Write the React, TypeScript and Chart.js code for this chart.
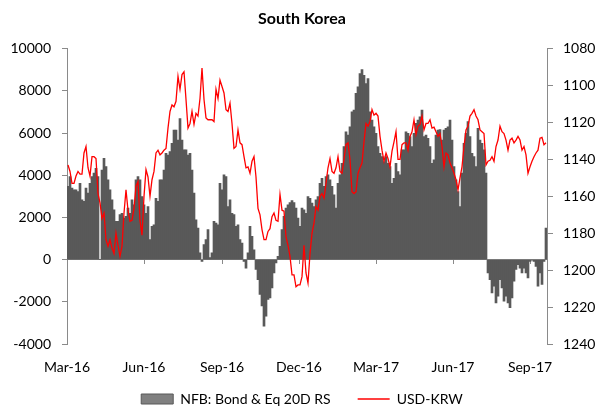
import { useEffect, useRef } from 'react';
import { Chart, registerables } from 'chart.js';

Chart.register(...registerables);

const TITLE = 'South Korea';
const BAR_LABEL = 'NFB: Bond & Eq 20D RS';
const LINE_LABEL = 'USD-KRW';

// Month tick labels and the data index where each falls
const TICK_LABELS = ['Mar-16', 'Jun-16', 'Sep-16', 'Dec-16', 'Mar-17', 'Jun-17', 'Sep-17'];
const TICK_INDEX = [-0.5, 38, 77, 115.5, 154, 192.5, 231];

// Left axis (flows) and right axis (USD-KRW, inverted)
const LEFT_MIN = -4000;
const LEFT_MAX = 10000;
const LEFT_STEP = 2000;
const RIGHT_MIN = 1080;
const RIGHT_MAX = 1240;
const RIGHT_STEP = 20;

// NFB: Bond & Eq 20D rolling sum
const FLOWS = [
  3470, 3940, 3390, 3310, 3310, 3230, 3620, 2830, 2760, 3390,
  3150, 3620, 3940, 4100, 4330, 3940, 0, 4250, 4800, 4410,
  3780, 3310, 2830, 2360, 1810, 1810, 2130, 2200, 1970, 2050,
  2440, 2200, 2830, 2600, 3780, 3940, 3780, 2990, 2600, 2200,
  2520, 950, 1580, 1650, 2910, 2760, 3780, 3780, 4250, 5040,
  4960, 5120, 5510, 6140, 6140, 5670, 6690, 5670, 5200, 5200,
  4960, 5040, 4250, 3150, 1890, 1500, 320, -80, 710, 950,
  1420, 100, 320, 1810, 1730, 1650, 3620, 3310, 4020, 3940,
  2520, 2830, 2200, 2130, 1580, 1650, 950, 790, -80, -400,
  320, 1580, 1100, 470, -470, -950, -1650, -2200, -3150, -2680,
  -1890, -1810, -1340, -630, -160, 160, 630, 1420, 2050, 2440,
  2600, 2710, 2800, 2710, 2440, 1970, 1580, 2440, 2360, 2200,
  2990, 2910, 2680, 2520, 2830, 2990, 3620, 3860, 3470, 3940,
  4020, 3780, 3470, 3070, 2440, 3620, 4020, 4570, 5360, 6060,
  5900, 6300, 7010, 7090, 7880, 8190, 8820, 9010, 8740, 8350,
  8580, 7010, 6620, 6300, 5990, 5360, 5040, 4880, 4650, 4880,
  4570, 4410, 3620, 3860, 4570, 4170, 4020, 5200, 5200, 6060,
  5990, 5830, 5360, 5990, 6460, 6620, 6770, 7090, 5830, 5900,
  5750, 5360, 4570, 4730, 5900, 6140, 6170, 5670, 6140, 6220,
  6300, 6620, 5670, 4410, 3780, 3230, 2520, 4100, 5510, 5990,
  6540, 5830, 5040, 4880, 4410, 6220, 5670, 5510, 5200, 4100,
  -630, -950, -1580, -1260, -2050, -1730, -950, -1340, -1970, -1730,
  -2050, -2280, -1810, -1020, -470, -240, -400, -630, -400, -630,
  -870, -80, -30, -80, -320, -1260, -630, -1180, -80, 1500,
];

// USD-KRW
const USDKRW = [
  1143, 1146.5, 1153, 1153, 1149, 1146.5, 1148, 1148, 1136.5, 1133,
  1144.5, 1149, 1138.5, 1138.5, 1139.5, 1158.5, 1163.5, 1172, 1169, 1183.5,
  1187, 1183.5, 1188, 1191, 1180, 1186.5, 1192.5, 1187, 1169, 1156.5,
  1167.5, 1173.5, 1173, 1166.5, 1154.5, 1152, 1173, 1181, 1160, 1145.5,
  1149.5, 1160, 1151, 1146.5, 1136.5, 1135, 1137.5, 1136.5, 1135, 1134,
  1123, 1114, 1110.5, 1111.5, 1108.5, 1095, 1102, 1094, 1092.5, 1107.5,
  1123, 1120.5, 1114, 1121, 1115, 1116.5, 1107, 1090.5, 1107.5, 1117.5,
  1118.5, 1118.5, 1118.5, 1119.5, 1102, 1107, 1097, 1100.5, 1104, 1113,
  1114, 1109.5, 1120.5, 1134, 1133, 1124, 1131, 1132, 1138.5, 1144.5,
  1144, 1147.5, 1141, 1138.5, 1149.5, 1166.5, 1170, 1178, 1183.5, 1183.5,
  1179, 1177.5, 1171, 1169, 1173, 1173.5, 1159, 1167.5, 1168, 1182,
  1186.5, 1192.5, 1202.5, 1202.5, 1209, 1208, 1208, 1203.5, 1186.5, 1201.5,
  1207, 1191, 1180, 1174.5, 1165.5, 1167.5, 1160, 1158.5, 1161, 1153,
  1144.5, 1139.5, 1146.5, 1147.5, 1144.5, 1138.5, 1146.5, 1147.5, 1140, 1132,
  1131, 1140, 1157.5, 1158.5, 1157.5, 1147.5, 1144.5, 1142, 1130.5, 1120.5,
  1122, 1119.5, 1113, 1116, 1115, 1116.5, 1127.5, 1135, 1141, 1136.5,
  1139.5, 1144, 1135.5, 1130.5, 1125, 1140, 1140, 1132, 1131, 1131,
  1135, 1127.5, 1125, 1118.5, 1126.5, 1122, 1121, 1116.5, 1124, 1120.5,
  1120.5, 1118.5, 1123, 1122.5, 1125, 1127.5, 1126, 1133, 1144, 1136.5,
  1137.5, 1142, 1144.5, 1147.5, 1151, 1156.5, 1150, 1144, 1133, 1124,
  1122, 1116.5, 1115, 1113, 1116.5, 1118.5, 1124, 1125, 1126, 1143,
  1141, 1140.5, 1138.5, 1141, 1133, 1129.5, 1122, 1125, 1126, 1129.5,
  1135, 1129.5, 1128.5, 1131, 1129.5, 1127.5, 1129.5, 1135, 1133, 1137.5,
  1147.5, 1144, 1141, 1138.5, 1136.5, 1135, 1128.5, 1128, 1132, 1131,
];

const FONT = 'Lato, "Open Sans", "DejaVu Sans", sans-serif';
const AXIS_COLOR = '#8a8a8a';
const BAR_COLOR = '#595959';
const LINE_COLOR = '#ff0000';
const LEGEND_PAD = 27;
const LEGEND_HEIGHT = 45;

export default function App() {
  const canvasRef = useRef<HTMLCanvasElement | null>(null);

  useEffect(() => {
    const canvas = canvasRef.current;
    if (!canvas) return;
    const n = FLOWS.length;
    const xMin = -0.5;
    const xMax = n - 0.5;

    const chart = new Chart(canvas, {
      type: 'bar',
      data: {
        datasets: [
          {
            type: 'bar',
            label: BAR_LABEL,
            data: FLOWS.map((v, i) => ({ x: i, y: v })),
            backgroundColor: BAR_COLOR,
            borderWidth: 0,
            barPercentage: 1,
            categoryPercentage: 1,
            xAxisID: 'x',
            yAxisID: 'y',
            order: 1,
          } as any,
          {
            type: 'line',
            label: LINE_LABEL,
            data: USDKRW.map((v, i) => ({ x: i, y: v })),
            borderColor: LINE_COLOR,
            backgroundColor: LINE_COLOR,
            borderWidth: 1.3,
            pointRadius: 0,
            tension: 0,
            fill: false,
            xAxisID: 'x',
            yAxisID: 'y1',
            order: 0,
          } as any,
        ],
      },
      options: {
        responsive: false,
        animation: false,
        events: [],
        layout: { padding: { left: 8, right: 0, top: 0, bottom: 0 } },
        plugins: {
          title: {
            display: true,
            text: TITLE,
            color: '#000',
            font: { family: FONT, size: 16, weight: 'bold' },
            padding: { top: 9, bottom: 20.5 },
          },
          legend: {
            display: true,
            position: 'bottom',
            maxHeight: LEGEND_HEIGHT,
            labels: {
              usePointStyle: true,
              pointStyleWidth: 32,
              boxHeight: 10,
              padding: LEGEND_PAD,
              color: '#000',
              font: { family: FONT, size: 14 },
              generateLabels: () => [
                {
                  text: BAR_LABEL,
                  fillStyle: '#808080',
                  strokeStyle: BAR_COLOR,
                  lineWidth: 1,
                  pointStyle: 'rect',
                  hidden: false,
                  datasetIndex: 0,
                },
                {
                  text: LINE_LABEL,
                  fillStyle: LINE_COLOR,
                  strokeStyle: LINE_COLOR,
                  lineWidth: 1.5,
                  pointStyle: 'line',
                  hidden: false,
                  datasetIndex: 1,
                },
              ],
            },
          },
          tooltip: { enabled: false },
        },
        scales: {
          x: {
            type: 'linear',
            min: xMin,
            max: xMax,
            offset: false,
            position: { y: 0 } as any,
            z: 1,
            afterBuildTicks: (s: any) => {
              s.ticks = TICK_INDEX.map((v) => ({ value: v }));
            },
            ticks: { display: false, autoSkip: false },
            grid: {
              display: true,
              offset: false,
              drawOnChartArea: false,
              drawTicks: true,
              tickLength: 4,
              color: AXIS_COLOR,
            },
            border: { display: true, color: AXIS_COLOR, width: 1 },
          },
          // month labels, hung under the bottom of the plot
          xl: {
            type: 'linear',
            position: { y: LEFT_MIN } as any,
            min: xMin,
            max: xMax,
            offset: false,
            afterBuildTicks: (s: any) => {
              s.ticks = TICK_INDEX.map((v) => ({ value: v }));
            },
            ticks: {
              autoSkip: false,
              maxRotation: 0,
              padding: 15,
              color: '#000',
              font: { family: FONT, size: 14 },
              callback: (_v: any, i: number) => TICK_LABELS[i],
            },
            grid: { display: false, drawTicks: false },
            border: { display: false },
          },
          // empty band that reserves room for the month labels
          xs: {
            type: 'linear',
            position: 'bottom',
            min: xMin,
            max: xMax,
            afterFit: (s: any) => {
              s.height = 21;
            },
            ticks: { display: false },
            grid: { display: false, drawTicks: false },
            border: { display: false },
          },
          y: {
            type: 'linear',
            position: 'left',
            min: LEFT_MIN,
            max: LEFT_MAX,
            afterFit: (s: any) => {
              s.width = 59;
            },
            ticks: {
              stepSize: LEFT_STEP,
              padding: 11,
              color: '#000',
              font: { family: FONT, size: 14 },
              callback: (v: any) => String(v),
            },
            grid: {
              drawOnChartArea: false,
              drawTicks: true,
              tickLength: 5,
              color: AXIS_COLOR,
            },
            border: { display: true, color: AXIS_COLOR, width: 1 },
          },
          y1: {
            type: 'linear',
            position: 'right',
            reverse: true,
            min: RIGHT_MIN,
            max: RIGHT_MAX,
            afterFit: (s: any) => {
              s.width = 49;
            },
            ticks: {
              stepSize: RIGHT_STEP,
              padding: 10,
              color: '#000',
              font: { family: FONT, size: 14 },
              callback: (v: any) => String(v),
            },
            grid: {
              drawOnChartArea: false,
              drawTicks: true,
              tickLength: 6,
              color: AXIS_COLOR,
            },
            border: { display: true, color: AXIS_COLOR, width: 1 },
          },
        },
      } as any,
    });

    return () => chart.destroy();
  }, []);

  return (
    <div style={{ position: 'absolute', left: 0, top: 0, width: 596, height: 410, background: '#fff' }}>
      <canvas ref={canvasRef} width={596} height={410} style={{ display: 'block', width: 596, height: 410 }} />
    </div>
  );
}
